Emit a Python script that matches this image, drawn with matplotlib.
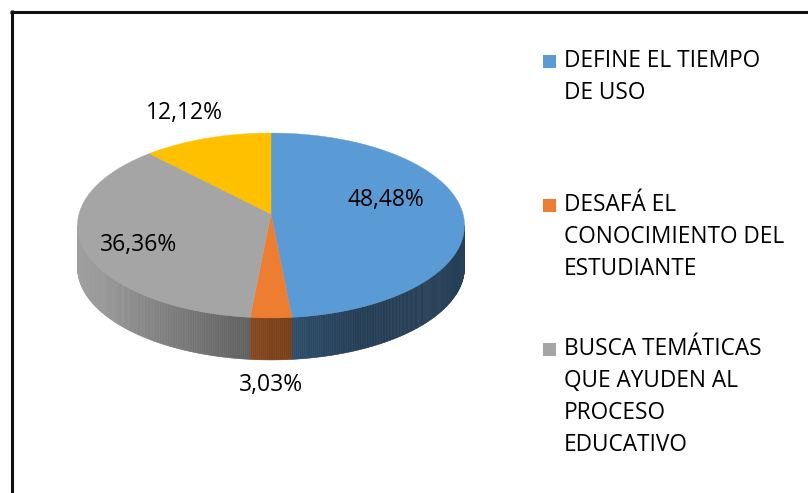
import numpy as np
import matplotlib
matplotlib.use("Agg")
import matplotlib.pyplot as plt
from matplotlib.patches import Polygon, Rectangle
from matplotlib.collections import PolyCollection
from matplotlib.colors import to_rgb

# datos del gráfico (sentido horario desde las 12)
valores = [48.48, 3.03, 36.36, 12.12]
etiquetas = ["48,48%", "3,03%", "36,36%", "12,12%"]
colores = ["#5B9BD5", "#ED7D31", "#A5A5A5", "#FFC000"]
leyenda = [
    "DEFINE EL TIEMPO\nDE USO",
    "DESAFÁ EL\nCONOCIMIENTO DEL\nESTUDIANTE",
    "BUSCA TEMÁTICAS\nQUE AYUDEN AL\nPROCESO\nEDUCATIVO",
]

plt.rcParams["font.family"] = ["Open Sans", "DejaVu Sans"]

W, H = 808, 493
fig = plt.figure(figsize=(W / 100, H / 100), dpi=100)
ax = fig.add_axes([0, 0, 1, 1])
ax.set_xlim(0, W)
ax.set_ylim(H, 0)
ax.axis("off")

# geometría de la torta 3D (perspectiva simple)
cx, cy = 271, 214
A, B, K = 192.0, 91.0, 0.1243
D = 42  # espesor


def proyectar(theta, r=1.0):
    u = r * np.sin(theta)
    v = -r * np.cos(theta)
    w = 1 - K * v
    return cx + A * u / w, cy + B * v / w


def sombra(x):
    # degradado horizontal del lateral (claro a la izquierda)
    t = (x - (cx - A)) / (2 * A)
    return np.interp(t, [0, 0.45, 0.5, 0.72, 1], [0.97, 0.57, 0.53, 0.40, 0.41])


total = sum(valores)
limites = np.concatenate([[0], np.cumsum(valores)]) / total * 2 * np.pi
vis_ini = np.arccos(-K)
vis_fin = 2 * np.pi - vis_ini

# laterales
for i, col in enumerate(colores):
    a0, a1 = max(limites[i], vis_ini), min(limites[i + 1], vis_fin)
    if a1 <= a0:
        continue
    ts = np.linspace(a0, a1, max(3, int(np.degrees(a1 - a0) * 2)))
    base = np.array(to_rgb(col))
    quads, cols = [], []
    for t0, t1 in zip(ts[:-1], ts[1:]):
        x0, y0 = proyectar(t0)
        x1, y1 = proyectar(t1)
        quads.append([(x0, y0), (x1, y1), (x1, y1 + D), (x0, y0 + D)])
        cols.append(np.clip(base * sombra((x0 + x1) / 2), 0, 1))
    ax.add_collection(PolyCollection(quads, facecolors=cols, edgecolors=cols, linewidths=0.4))

# caras superiores
for i, col in enumerate(colores):
    ts = np.linspace(limites[i], limites[i + 1], 200)
    xs, ys = proyectar(ts)
    pts = [(cx, cy)] + list(zip(xs, ys))
    ax.add_patch(Polygon(pts, closed=True, facecolor=col, edgecolor=col, linewidth=0.3))

# etiquetas de datos
radios = [0.6, 1.0, 0.72, 1.25]
desplaz = [(0, -11), (0, D + 25), (2, 9), (-9, -9)]
for i, txt in enumerate(etiquetas):
    mid = (limites[i] + limites[i + 1]) / 2
    x, y = proyectar(mid, radios[i])
    ax.text(x + desplaz[i][0], y + desplaz[i][1], txt, fontsize=16.5,
            ha="center", va="center", color="black")

# leyenda
y_ent = [61, 205, 349]
for txt, col, y in zip(leyenda, colores, y_ent):
    ax.add_patch(Rectangle((543, y - 6.5), 13, 13, facecolor=col, edgecolor="none"))
    for j, linea in enumerate(txt.split("\n")):
        ax.text(564, y + j * 32, linea, fontsize=16.3, ha="left", va="center", color="black")

# marco
ax.plot([10, W], [11.5, 11.5], color="#111111", lw=2.2, solid_capstyle="butt")
ax.plot([11.5, 11.5], [10, H], color="#111111", lw=2.2, solid_capstyle="butt")

fig.savefig("out.png", dpi=100)
plt.close(fig)
